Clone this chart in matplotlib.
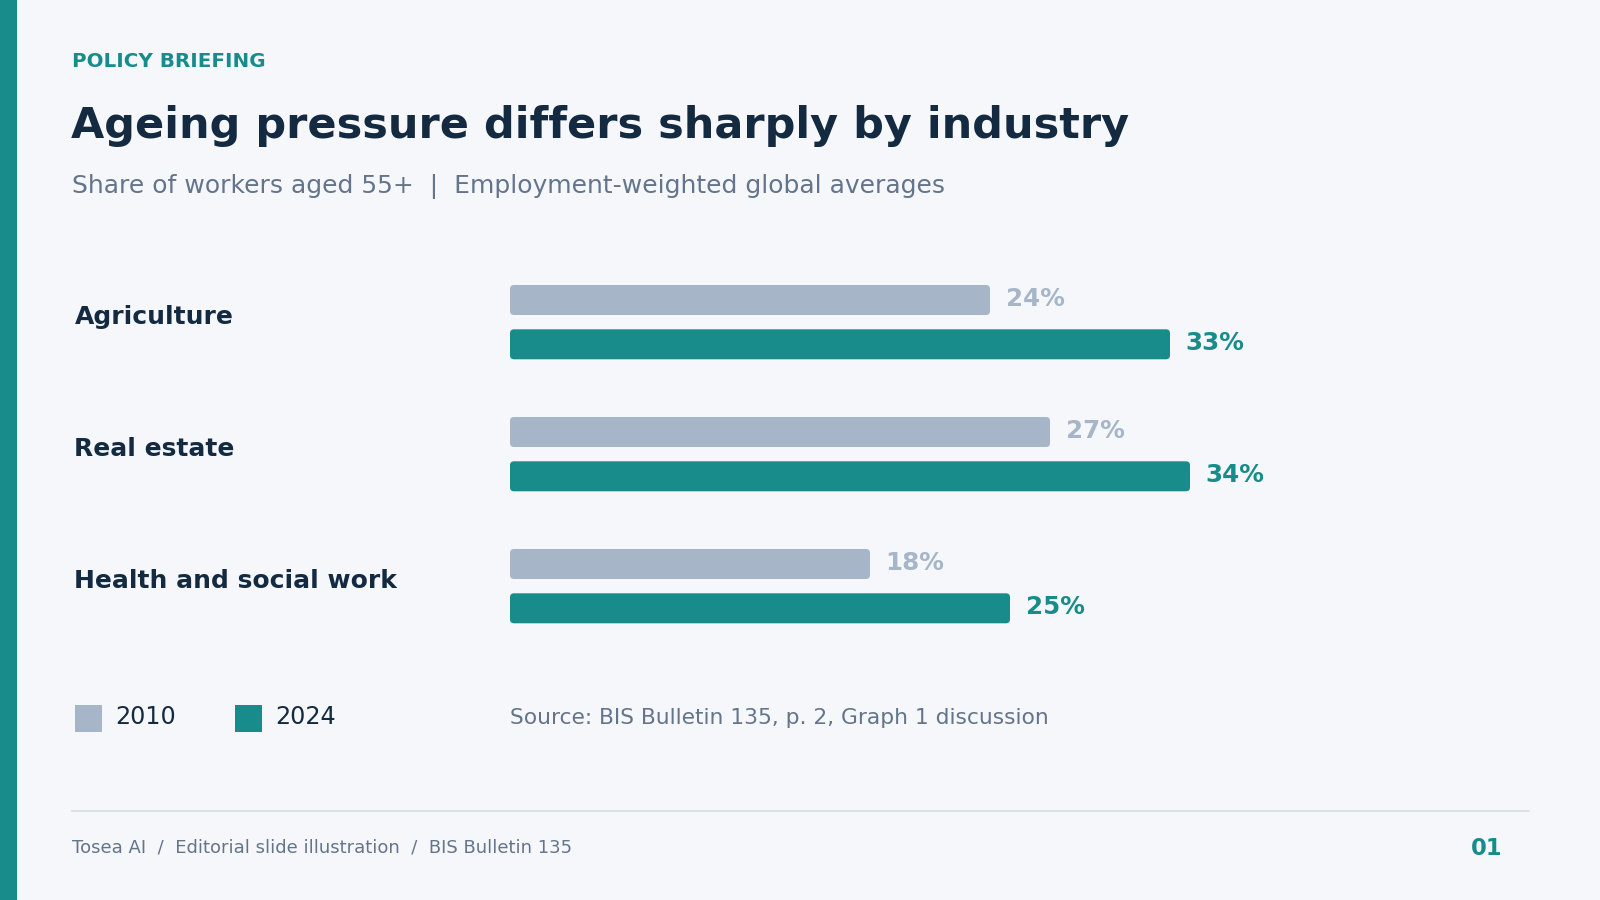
import matplotlib
matplotlib.use("Agg")
import matplotlib.pyplot as plt
from matplotlib.patches import Rectangle, FancyBboxPatch
from matplotlib.transforms import offset_copy, blended_transform_factory

# ---- data ----
categories = ["Agriculture", "Real estate", "Health and social work"]
share_2010 = [24, 27, 18]
share_2024 = [33, 34, 25]
series_labels = ["2010", "2024"]

kicker = "POLICY BRIEFING"
title = "Ageing pressure differs sharply by industry"
subtitle = "Share of workers aged 55+  |  Employment-weighted global averages"
source = "Source: BIS Bulletin 135, p. 2, Graph 1 discussion"
footer = "Tosea AI  /  Editorial slide illustration  /  BIS Bulletin 135"
page_no = "01"

# ---- style ----
BG = "#f5f7fb"
TEAL = "#178c8a"
GREY_BAR = "#a6b6c8"
NAVY = "#132a41"
GREY_TXT = "#64748b"
RULE = "#d6dde6"
FONT = "DejaVu Sans"

W, H = 1600.0, 900.0  # pixel space
def fx(x): return x / W
def fy(y): return 1 - y / H

fig = plt.figure(figsize=(16, 9), dpi=100)
fig.patch.set_facecolor(BG)

# left accent stripe
fig.add_artist(Rectangle((0, 0), fx(16.5), 1, transform=fig.transFigure,
                         facecolor=TEAL, edgecolor="none"))

# header texts
fig.text(fx(72), fy(66.7), kicker, color=TEAL, fontsize=14.3, fontweight="bold",
         family=FONT, va="baseline", ha="left")
fig.text(fx(71), fy(138.3), title, color=NAVY, fontsize=31, fontweight="bold",
         family=FONT, va="baseline", ha="left")
fig.text(fx(72), fy(193.3), subtitle, color=GREY_TXT, fontsize=18,
         family=FONT, va="baseline", ha="left")

# ---- bars axes ----
px_per_pct = 20.0
ax_left, ax_right = 510, 1510
ax_top, ax_bot = 250, 660
group_px = 132.0
group0_center = 322.15

ax = fig.add_axes([fx(ax_left), fy(ax_bot), (ax_right - ax_left) / W, (ax_bot - ax_top) / H])
ax.set_facecolor("none")
ax.set_xlim(0, (ax_right - ax_left) / px_per_pct)
top_val = -(group0_center - ax_top) / group_px
ax.set_ylim(top_val + (ax_bot - ax_top) / group_px, top_val)
for s in ax.spines.values():
    s.set_visible(False)
ax.set_xticks([])
ax.set_yticks([])

off = 22.15 / group_px
bh = 30.0 / group_px
ys = list(range(len(categories)))
y10 = [y - off for y in ys]
y24 = [y + off for y in ys]
bars10 = ax.barh(y10, share_2010, height=bh, color=GREY_BAR)
bars24 = ax.barh(y24, share_2024, height=bh, color=TEAL)

# replace plain rectangles with slightly rounded ones
r_px = 4.0
r_x = r_px / px_per_pct
aspect = px_per_pct / group_px
for bars, col in [(bars10, GREY_BAR), (bars24, TEAL)]:
    for rect in bars:
        x0, y0 = rect.get_x(), rect.get_y()
        w, h = rect.get_width(), rect.get_height()
        rect.set_visible(False)
        ax.add_patch(FancyBboxPatch((x0, y0), w, h,
                                    boxstyle=f"round,pad=0,rounding_size={r_x}",
                                    mutation_aspect=aspect,
                                    facecolor=col, edgecolor="none"))

lab_tr = offset_copy(ax.transData, fig=fig, x=15.5, y=-5.7, units="dots")
for yy, v in zip(y10, share_2010):
    ax.text(v, yy, f"{v}%", transform=lab_tr, color=GREY_BAR, fontsize=17.7,
            fontweight="bold", family=FONT, va="baseline", ha="left")
for yy, v in zip(y24, share_2024):
    ax.text(v, yy, f"{v}%", transform=lab_tr, color=TEAL, fontsize=17.7,
            fontweight="bold", family=FONT, va="baseline", ha="left")

# category labels (x in figure, y in data)
cat_tr = offset_copy(blended_transform_factory(fig.transFigure, ax.transData),
                     fig=fig, x=0, y=-2, units="dots")
for yy, c in zip(ys, categories):
    fig.text(fx(74.5), yy, c, transform=cat_tr, color=NAVY, fontsize=18,
             fontweight="bold", family=FONT, va="baseline", ha="left")

# legend
for (x0, col, lab) in [(75, GREY_BAR, series_labels[0]), (235, TEAL, series_labels[1])]:
    fig.add_artist(Rectangle((fx(x0), fy(731.7)), 26.7 / W, 26.7 / H, transform=fig.transFigure,
                             facecolor=col, edgecolor="none"))
    fig.text(fx(x0 + 40.7), fy(724.3), lab, color=NAVY, fontsize=17.2, family=FONT,
             va="baseline", ha="left")

fig.text(fx(510), fy(724.5), source, color=GREY_TXT, fontsize=15.7, family=FONT,
         va="baseline", ha="left")

# footer rule
fig.add_artist(plt.Line2D([fx(72), fx(1528.7)], [fy(811), fy(811)], transform=fig.transFigure,
                          color=RULE, linewidth=1.2))
fig.text(fx(72), fy(852.3), footer, color=GREY_TXT, fontsize=13, family=FONT,
         va="baseline", ha="left")
fig.text(fx(1502), fy(855.3), page_no, color=TEAL, fontsize=16.3, fontweight="bold",
         family=FONT, va="baseline", ha="right")

fig.savefig("out.png", dpi=100, facecolor=BG)
